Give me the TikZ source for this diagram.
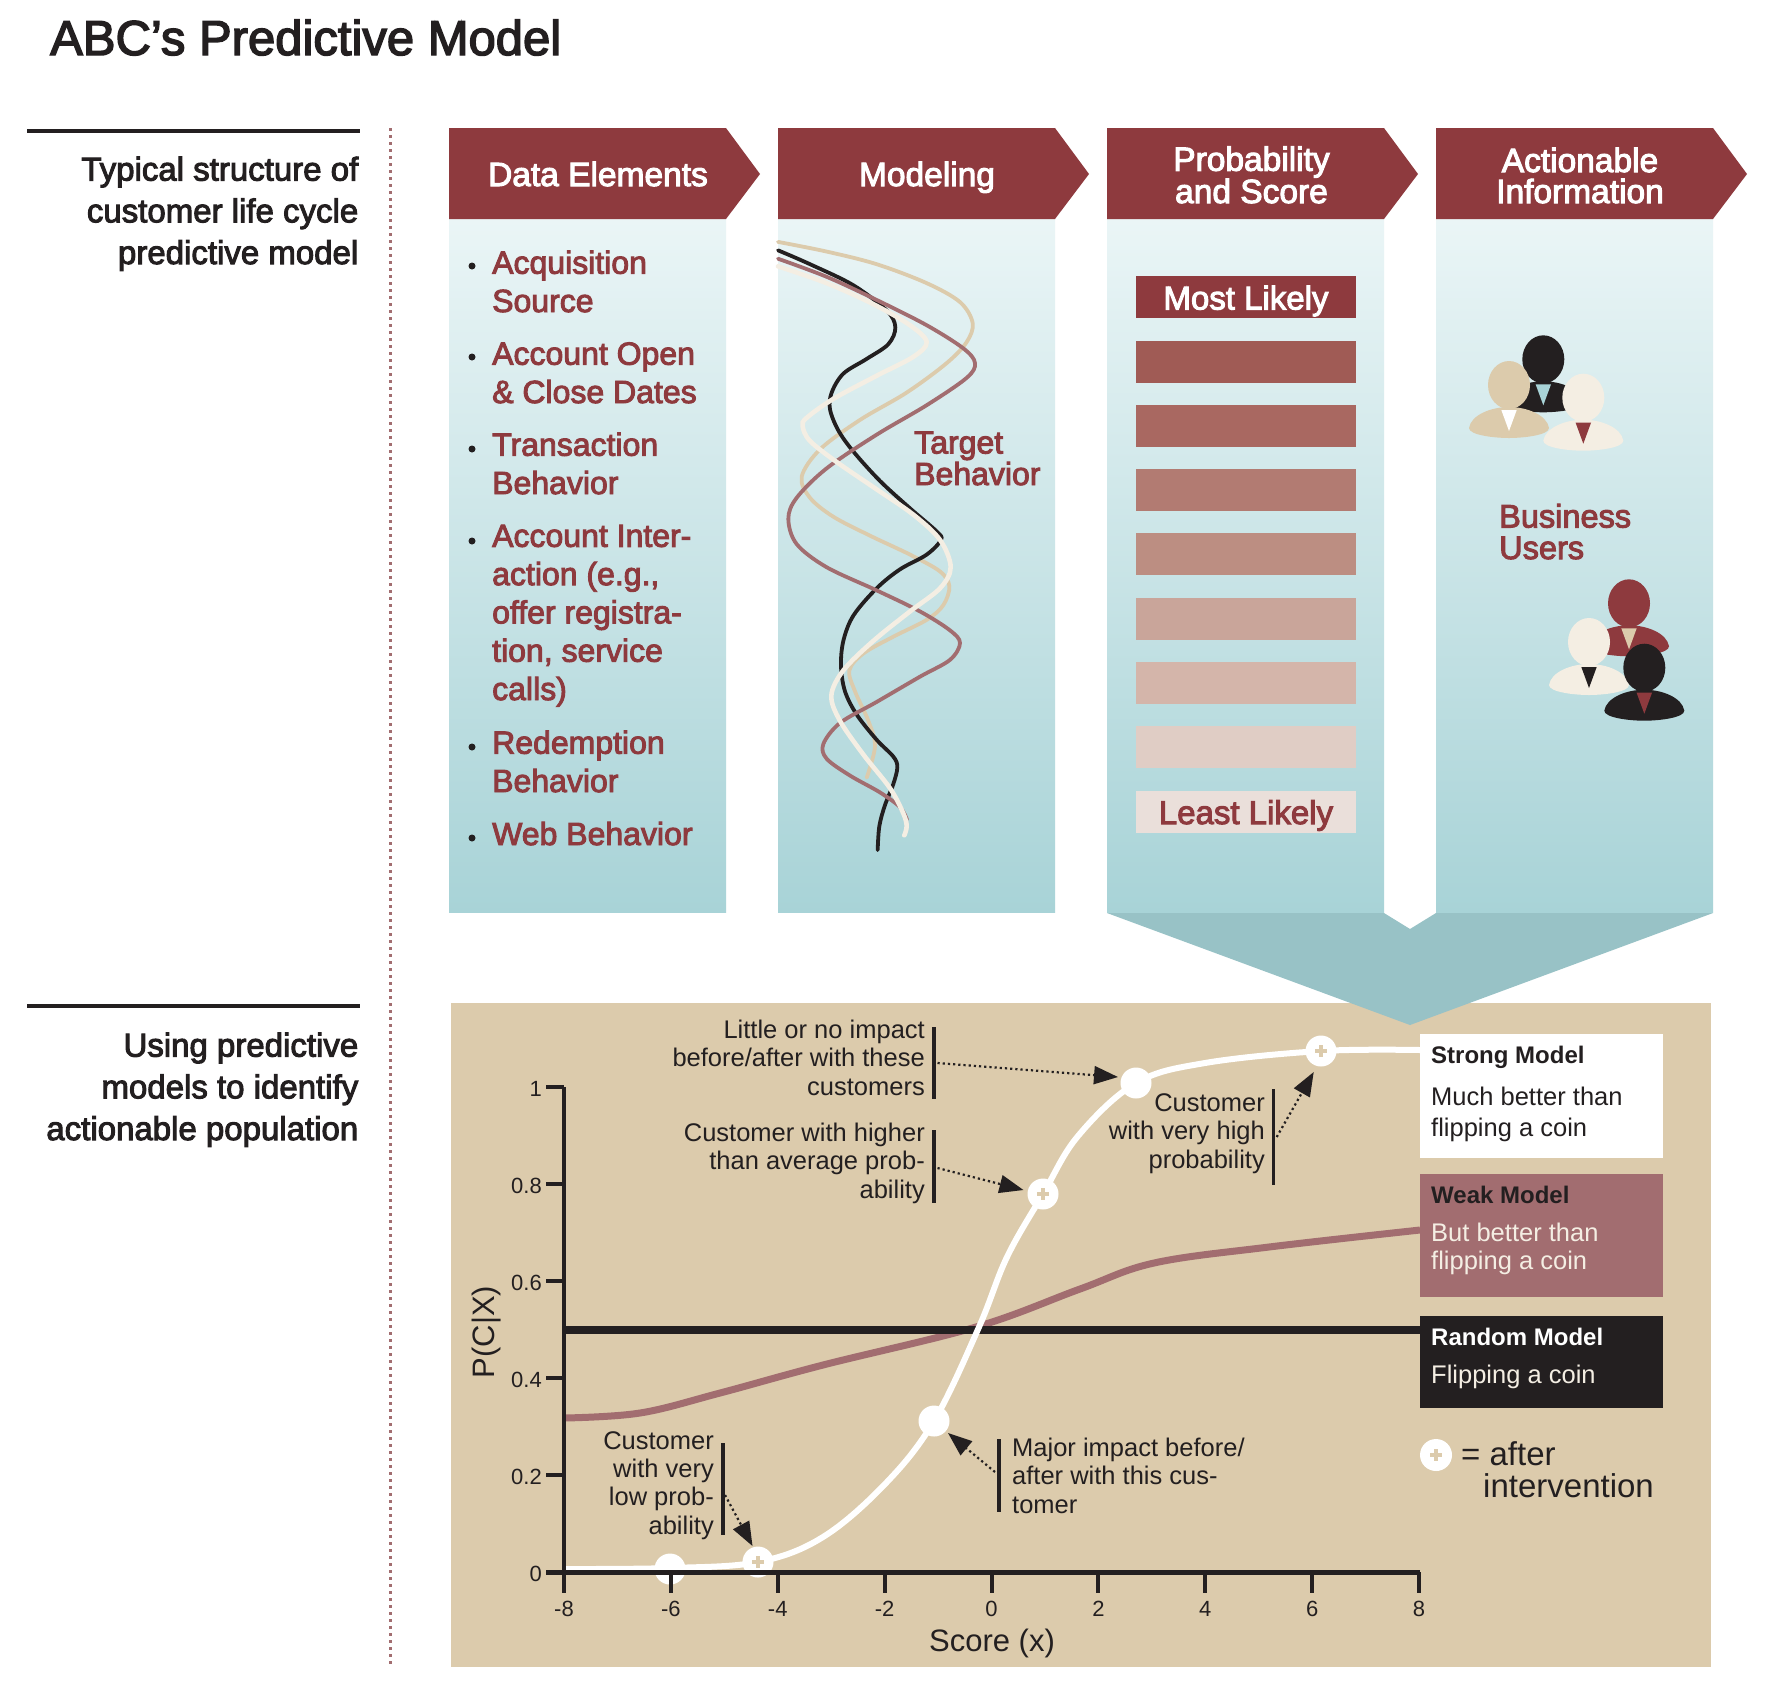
\documentclass[tikz,border=0pt]{standalone}
\usepackage{fontspec}
\setmainfont{Liberation Sans}
\newfontfamily\medf[FakeBold=3]{Liberation Sans}
\newfontfamily\boldf{Liberation Sans Bold}
\usetikzlibrary{arrows.meta}
\definecolor{ink}{HTML}{231F20}
\definecolor{wine}{HTML}{8E3A3E}
\definecolor{plum}{HTML}{A26D70}
\definecolor{sand}{HTML}{DCCBAC}
\definecolor{cream}{HTML}{F4EEE3}
\definecolor{tealtop}{HTML}{EAF5F6}
\definecolor{tealbot}{HTML}{A8D3D7}
\definecolor{tealdark}{HTML}{98C2C6}
\newcommand{\fsz}[2]{\fontsize{#1}{#2}\selectfont}
\tikzset{
  panelbody/.style={anchor=north west,inner sep=0pt,minimum width=277pt,minimum height=693.5pt,top color=tealtop,bottom color=tealbot},
  headtxt/.style={font=\medf\fsz{33.5}{31},text=white,align=center,inner sep=0pt},
  listtxt/.style={font=\medf\fsz{32}{38.3},text=wine,align=left,inner sep=0pt,anchor=base west},
  bul/.style={circle,fill=ink,inner sep=0pt,minimum size=7pt},
  sidetxt/.style={font=\medf\fsz{33}{41.7},text=ink,align=right,inner sep=0pt,anchor=base east},
  bar/.style={anchor=north west,inner sep=0pt,minimum width=220.5pt,minimum height=42pt},
  bartxt/.style={font=\medf\fsz{33}{33},inner sep=0pt,anchor=base},
  curve/.style={line width=3.8pt,line cap=round},
  annoR/.style={font=\fsz{25.5}{28.3},text=ink,align=right,inner sep=0pt,anchor=base east},
  annoL/.style={font=\fsz{25.5}{28.3},text=ink,align=left,inner sep=0pt,anchor=base west},
  tick/.style={font=\fsz{22}{22},text=ink,inner sep=0pt},
  vbar/.style={line width=3.6pt,ink},
  dotarrow/.style={line width=2.2pt,ink,dash pattern=on 2.2pt off 3pt,-{Triangle[length=24pt,width=18pt]}},
  mkr/.style={circle,fill=white,inner sep=0pt,minimum size=31pt},
  legbox/.style={anchor=north west,inner sep=0pt,minimum width=243pt},
  legh/.style={font=\boldf\fsz{24}{24},inner sep=0pt,anchor=base west},
  legt/.style={font=\fsz{25.5}{30.7},inner sep=0pt,anchor=base west,align=left}
}
\newcommand{\person}[4]{% x y body tie
  \begin{scope}[shift={(#1,#2)}]
    \fill[#3] (-40,43) .. controls (-38,30) and (-18,22) .. (0,22) .. controls (18,22) and (38,30) .. (40,43) .. controls (40,50) and (15,53) .. (0,53) .. controls (-15,53) and (-40,50) .. cycle;
    \fill[#3] (0,0) ellipse [x radius=21,y radius=24];
    \fill[#4] (-7.7,25) -- (7.7,25) -- (0,46) -- cycle;
  \end{scope}}
\newcommand{\plusmark}[1]{%
  \draw[sand,line width=3.6pt] (#1.center) +(-6,0) -- +(6,0) (#1.center) +(0,-6) -- +(0,6);}
\begin{document}
\begin{tikzpicture}[x=1pt,y=-1pt,line join=miter]
\fill[white] (0,0) rectangle (1768,1698);
\useasboundingbox (0,0) rectangle (1768,1698);

\node[font=\medf\fsz{49}{49},text=ink,anchor=base west,inner sep=0pt] (title) at (50,55) {ABC’s Predictive Model};

% left rules and texts
\draw[ink,line width=4pt] (27,131) coordinate (r1a) -- (360,131) coordinate (r1b);
\draw[ink,line width=4pt] (27,1006) coordinate (r2a) -- (360,1006) coordinate (r2b);
\coordinate (dota) at (390,128);
\coordinate (dotb) at (390,1664);
\draw[plum,line width=3pt,dash pattern=on 3pt off 4pt] (dota) -- (dotb);
\node[sidetxt] (side1) at (358.5,264) {Typical structure of\\customer life cycle\\predictive model};
\node[sidetxt] (side2) at (358.5,1140) {Using predictive\\models to identify\\actionable population};

% panels
\foreach \x/\n in {449/a,778/b,1107/c,1436/d}{
  \node[panelbody] (body\n) at (\x,219) {};
  \fill[wine] (\x,128) -- ++(277,0) -- ++(34,46) -- ++(-34,45) -- ++(-277,0) -- cycle;
}
\node[headtxt,anchor=base] (h1) at (598,186) {Data Elements};
\node[headtxt,anchor=base] (h2) at (927,186) {Modeling};
\node[headtxt,anchor=base] (h3) at (1251.5,203) {Probability\\and Score};
\node[headtxt,anchor=base] (h4) at (1580,203) {Actionable\\Information};

% list
\foreach \y/\n in {266/1,357/2,449/3,541/4,747/5,838/6}{\node[bul] (b\n) at (472,\y) {};}
\node[listtxt] (l1) at (492,312) {Acquisition\\Source};
\node[listtxt] (l2) at (492,403) {Account Open\\\& Close Dates};
\node[listtxt] (l3) at (492,494) {Transaction\\Behavior};
\node[listtxt] (l4) at (492,700) {Account Inter-\\action (e.g.,\\offer registra-\\tion, service\\calls)};
\node[listtxt] (l5) at (492,792) {Redemption\\Behavior};
\node[listtxt] (l6) at (492,845) {Web Behavior};

% modeling curves
\begin{scope}[shift={(760,220)},x=0.33333pt,y=-0.42088pt]
\draw[curve,sand] plot[smooth,tension=0.55] coordinates {(54,52)(200,75)(350,105)(500,150)(600,195)(638,245)(620,290)(560,340)(440,410)(300,475)(180,545)(125,610)(150,660)(220,705)(330,750)(450,795)(540,835)(568,870)(550,915)(500,950)(400,990)(310,1030)(268,1070)(285,1120)(325,1190)(345,1250)(320,1325)};
\draw[curve,ink] plot[smooth,tension=0.55] coordinates {(54,72)(150,105)(280,155)(380,215)(406,255)(385,295)(320,330)(250,365)(215,410)(210,450)(235,500)(280,550)(360,620)(450,685)(530,740)(543,760)(500,795)(420,830)(350,875)(280,940)(250,1000)(243,1060)(255,1120)(290,1175)(350,1235)(400,1275)(412,1300)(400,1340)(375,1390)(358,1440)(353,1497)};
\draw[curve,plum] plot[smooth,tension=0.55] coordinates {(54,92)(200,135)(350,190)(500,250)(610,305)(645,340)(620,375)(500,440)(350,510)(200,590)(110,660)(85,710)(110,770)(200,825)(350,880)(480,930)(570,975)(600,1005)(570,1045)(480,1085)(350,1145)(240,1195)(190,1245)(200,1280)(270,1320)(360,1360)(420,1395)(441,1425)};
\draw[curve,cream,line width=4.6pt] plot[smooth,tension=0.55] coordinates {(54,110)(200,150)(340,200)(450,250)(500,290)(460,325)(350,370)(220,425)(140,470)(128,490)(150,525)(230,575)(350,640)(460,700)(540,760)(572,825)(540,875)(450,930)(340,1000)(250,1070)(214,1130)(240,1190)(310,1270)(390,1350)(430,1410)(440,1440)(433,1462)};
\end{scope}
\node[listtxt,font=\medf\fsz{32}{31.5}] (target) at (914,485) {Target\\Behavior};

% probability bars
\foreach \k/\c in {0/8E3A3E,1/A05B55,2/A96861,3/B27B72,4/BC8E82,5/C9A59A,6/D4B5AA,7/E0CDC5,8/EADFDA}{
  \definecolor{barc}{HTML}{\c}
  \node[bar,fill=barc] (bar\k) at (1135.5,{276+64.3*\k}) {};
}
\node[bartxt,text=white] (most) at (1246,309.5) {Most Likely};
\node[bartxt,text=wine] (least) at (1246,824) {Least Likely};

% people
\person{1543.3}{359.3}{ink}{tealbot}
\person{1509}{385}{sand}{white}
\person{1583.3}{397.7}{cream}{wine}
\person{1629}{603.3}{wine}{sand}
\person{1589}{642}{cream}{ink}
\person{1644.3}{667.7}{ink}{wine}
\node[listtxt,font=\medf\fsz{32.5}{31.5}] (users) at (1499,559) {Business\\Users};

% chart background
\fill[sand] (451,1003) rectangle (1711,1667);
\fill[tealdark] (1107,913) -- (1384,913) -- (1410,929) -- (1436,913) -- (1713,913) -- (1410,1025) -- cycle;

% model curves
\draw[plum,line width=7pt] plot[smooth,tension=0.6] coordinates {(564,1418)(640,1413)(720,1393)(823,1365)(976,1327)(1080,1289)(1154,1263)(1269,1247)(1420,1230)};
\draw[ink,line width=8pt] (564,1330) coordinate (rma) -- (1420,1330) coordinate (rmb);
\draw[white,line width=6pt] plot[smooth,tension=0.6] coordinates {(564,1569)(670,1568)(758,1562)(823,1537)(886,1483)(934,1421)(979,1327)(1007,1257)(1043,1194)(1078,1136)(1136,1083)(1205,1063)(1321,1051)(1420,1050)};
\node[mkr] (m1) at (670,1569) {};
\node[mkr] (m2) at (758,1562) {}; \plusmark{m2}
\node[mkr] (m3) at (934,1421) {};
\node[mkr] (m4) at (1043,1194) {}; \plusmark{m4}
\node[mkr] (m5) at (1136,1083) {};
\node[mkr] (m6) at (1321,1051) {}; \plusmark{m6}

% axes
\draw[ink,line width=4pt] (564,1087) coordinate (yt) -- (564,1574) coordinate (yb);
\draw[ink,line width=5pt] (546,1572) coordinate (xl) -- (1420,1572) coordinate (xr);
\foreach \v/\t in {0/0,0.2/0.2,0.4/0.4,0.6/0.6,0.8/0.8,1/1}{
  \draw[ink,line width=4pt] (546,{1572-485*\v}) -- (564,{1572-485*\v});
  \node[tick,anchor=east] (yl\t) at (542,{1573.5-485*\v}) {\t};
}
\foreach \u in {-8,-6,-4,-2,0,2,4,6,8}{
  \draw[ink,line width=4pt] ({991.5+53.44*\u},1572) -- ({991.5+53.44*\u},1593);
  \node[tick,anchor=center] (xl\u) at ({991.5+53.44*\u},1609) {\u};
}
\node[font=\fsz{31}{31},text=ink,inner sep=0pt,anchor=base] (xlab) at (992,1651) {Score (x)};
\node[font=\fsz{31}{31},text=ink,inner sep=0pt,anchor=base,rotate=90] (ylab) at (494,1332) {P(C|X)};

% legend
\node[legbox,fill=white,minimum height=123.5pt] (lg1) at (1420,1034) {};
\node[legbox,fill=plum,minimum height=123pt] (lg2) at (1420,1174) {};
\node[legbox,fill=ink,minimum height=91.5pt] (lg3) at (1420,1316) {};
\node[legh,text=ink] (s1) at (1431,1063) {Strong Model};
\node[legt,text=ink] (s2) at (1431,1136) {Much better than\\flipping a coin};
\node[legh,text=ink] (w1) at (1431,1203) {Weak Model};
\node[legt,text=cream,font=\fsz{25.5}{28}] (w2) at (1431,1269) {But better than\\flipping a coin};
\node[legh,text=white] (q1) at (1431,1345) {Random Model};
\node[legt,text=cream] (q2) at (1431,1383) {Flipping a coin};
\node[mkr,minimum size=32pt] (lm) at (1436,1455) {}; \plusmark{lm}
\node[font=\fsz{33}{33},text=ink,inner sep=0pt,anchor=base west] (aft) at (1461,1465) {= after};
\node[font=\fsz{33}{33},text=ink,inner sep=0pt,anchor=base west] (intv) at (1483,1497) {intervention};

% annotations
\node[annoR] (t1) at (925,1095) {Little or no impact\\before/after with these\\customers};
\node[annoR] (t2) at (925,1198) {Customer with higher\\than average prob-\\ability};
\node[annoR] (t3) at (1265,1168) {Customer\\with very high\\probability};
\node[annoR] (t4) at (714,1534) {Customer\\with very\\low prob-\\ability};
\node[annoL] (t5) at (1012,1513) {Major impact before/\\after with this cus-\\tomer};
\draw[vbar] (934,1027) coordinate (v1a) -- (934,1099) coordinate (v1b);
\draw[vbar] (934,1130) coordinate (v2a) -- (934,1203) coordinate (v2b);
\draw[vbar] (1273.5,1089) coordinate (v3a) -- (1273.5,1185) coordinate (v3b);
\draw[vbar] (723,1443) coordinate (v4a) -- (723,1535) coordinate (v4b);
\draw[vbar] (999,1439) coordinate (v5a) -- (999,1512) coordinate (v5b);
\coordinate (a1) at (937.5,1063); \coordinate (e1) at (1118,1077);
\coordinate (a2) at (937.5,1168); \coordinate (e2) at (1023.5,1190);
\coordinate (a3) at (1276.7,1137); \coordinate (e3) at (1313.7,1072);
\coordinate (a4) at (725,1495); \coordinate (e4) at (752.5,1546);
\coordinate (a5) at (995,1472); \coordinate (e5) at (948,1433);
\draw[dotarrow] (a1) -- (e1);
\draw[dotarrow] (a2) -- (e2);
\draw[dotarrow] (a3) -- (e3);
\draw[dotarrow] (a4) -- (e4);
\draw[dotarrow] (a5) -- (e5);
\end{tikzpicture}
\end{document}
